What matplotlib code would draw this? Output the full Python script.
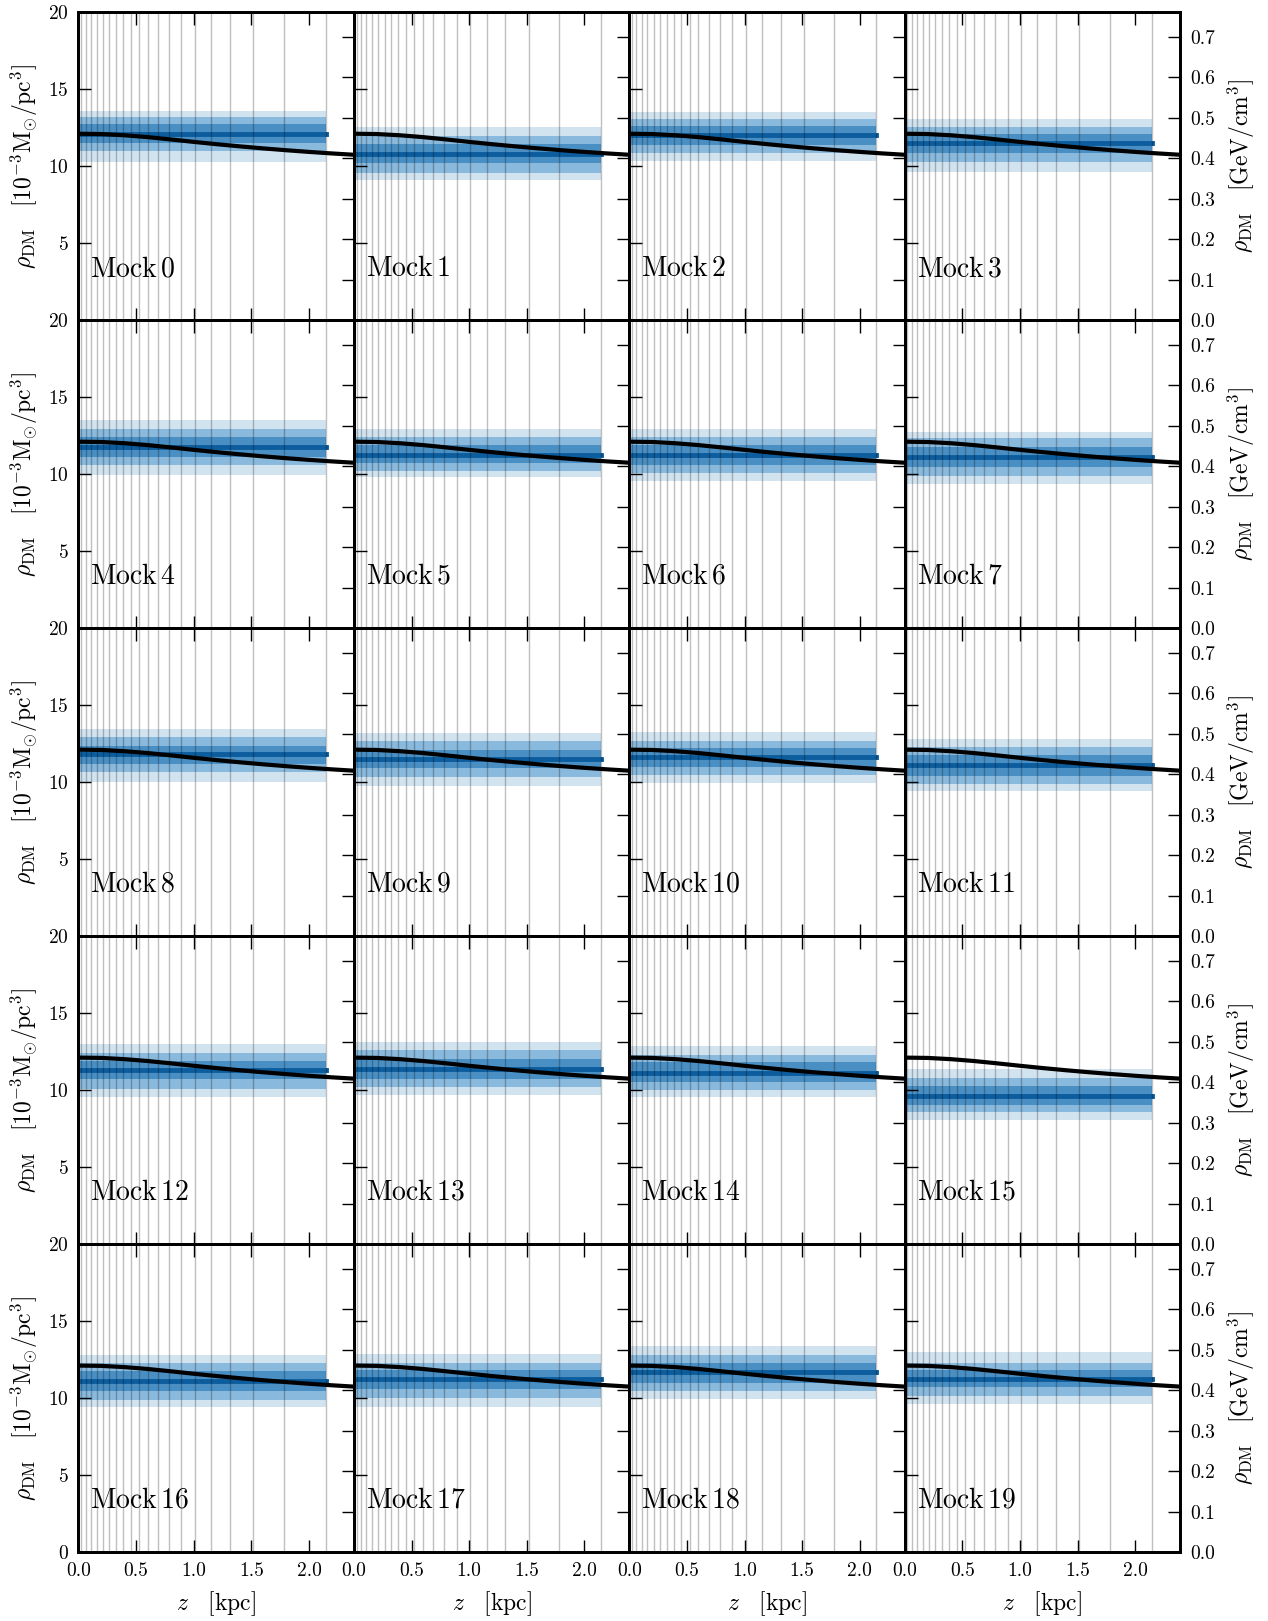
import numpy as np
import matplotlib
matplotlib.use("Agg")
import matplotlib.pyplot as plt

plt.rcParams['font.family'] = 'serif'
plt.rcParams['font.serif'] = ['cmr10']
plt.rcParams['mathtext.fontset'] = 'cm'
plt.rcParams['axes.unicode_minus'] = False
plt.rcParams['axes.formatter.use_mathtext'] = True

# bin edges (kpc), drawn as vertical lines
bin_edges = [0.0, 0.024, 0.061, 0.108, 0.157, 0.213, 0.266, 0.323, 0.385, 0.452,
             0.524, 0.600, 0.688, 0.784, 0.892, 1.011, 1.151, 1.315, 1.516, 1.780, 2.145]

# true profile (10^-3 Msun/pc^3)
true_z = [0.0, 0.2, 0.4, 0.6, 0.8, 1.0, 1.2, 1.4, 1.6, 1.8, 2.0, 2.2, 2.4]
true_rho = [12.12, 12.10, 12.02, 11.90, 11.75, 11.59, 11.44, 11.30, 11.17, 11.05, 10.94, 10.84, 10.75]

# inferred constant density per mock
median = [12.08, 10.80, 12.01, 11.50, 11.80, 11.26, 11.26, 11.13, 11.82, 11.50,
          11.63, 11.13, 11.30, 11.39, 11.13, 9.64, 11.09, 11.24, 11.71, 11.28]
band1_lo = [11.50, 10.20, 11.40, 10.85, 11.15, 10.72, 10.61, 10.46, 11.20, 10.91,
            10.98, 10.44, 10.70, 10.74, 10.52, 9.07, 10.44, 10.59, 11.02, 10.70]
band1_hi = [12.75, 11.45, 12.60, 12.10, 12.45, 11.91, 11.91, 11.80, 12.39, 12.10,
            12.21, 11.78, 11.89, 12.04, 11.82, 10.27, 11.74, 11.82, 12.28, 11.82]
band2_lo = [11.00, 9.60, 10.85, 10.31, 10.61, 10.22, 10.07, 9.92, 10.70, 10.33,
            10.48, 9.90, 10.11, 10.22, 10.00, 8.58, 9.90, 10.00, 10.48, 10.16]
band2_hi = [13.23, 12.00, 13.05, 12.58, 12.95, 12.45, 12.45, 12.34, 12.93, 12.65,
            12.69, 12.32, 12.43, 12.60, 12.32, 10.81, 12.26, 12.32, 12.82, 12.32]
band3_lo = [10.31, 9.10, 10.34, 9.66, 9.94, 9.85, 9.59, 9.38, 10.00, 9.77,
            9.94, 9.44, 9.57, 9.72, 9.57, 8.10, 9.46, 9.40, 9.94, 9.61]
band3_hi = [13.60, 12.55, 13.56, 13.06, 13.53, 12.95, 12.95, 12.77, 13.47, 13.19,
            13.25, 12.80, 13.01, 13.14, 12.86, 11.39, 12.82, 12.86, 13.36, 12.97]

GEV_PER_UNIT = 0.038  # 10^-3 Msun/pc^3 -> GeV/cm^3
YMAX = 20.0
XMAX = 2.39


def main():
    nrows, ncols = 5, 4
    fig, axes = plt.subplots(nrows, ncols, figsize=(12.68, 16.21), dpi=100)
    fig.subplots_adjust(left=0.0619, right=0.9307, top=0.99235, bottom=0.04244,
                        wspace=0, hspace=0)

    colors = ['#d2e3f0', '#89b9dc', '#4a8fc4', '#0c5d9e']
    zmax = bin_edges[-1]

    for i in range(nrows * ncols):
        r, c = divmod(i, ncols)
        ax = axes[r, c]

        ax.fill_between([0, zmax], band3_lo[i], band3_hi[i], color=colors[0], lw=0, zorder=1)
        ax.fill_between([0, zmax], band2_lo[i], band2_hi[i], color=colors[1], lw=0, zorder=1)
        ax.fill_between([0, zmax], band1_lo[i], band1_hi[i], color=colors[2], lw=0, zorder=1)
        ax.plot([0, zmax], [median[i], median[i]], color=colors[3], lw=3.5, zorder=2)

        for e in bin_edges:
            ax.axvline(e, color='k', alpha=0.25, lw=1.0, zorder=3)

        ax.plot(true_z, true_rho, color='k', lw=3, zorder=4)

        ax.text(0.043, 0.144, r'$\mathrm{Mock\,%d}$' % i, transform=ax.transAxes,
                fontsize=20, ha='left', va='baseline', zorder=5)

        ax.set_xlim(0, XMAX)
        ax.set_ylim(0, YMAX)
        ax.set_xticks([0.0, 0.5, 1.0, 1.5, 2.0])
        ax.set_yticks([0, 5, 10, 15, 20] if r == nrows - 1 else [5, 10, 15, 20])
        ax.tick_params(direction='in', length=9, width=1, top=True, right=False,
                       labelsize=14, pad=7)
        for sp in ax.spines.values():
            sp.set_linewidth(2)

        if r == nrows - 1:
            ax.set_xticklabels(['0.0', '0.5', '1.0', '1.5', '2.0'])
            ax.set_xlabel(r'$z\quad[\mathrm{kpc}]$', fontsize=17, labelpad=7)
        else:
            ax.set_xticklabels([])
        if c == 0:
            ax.set_ylabel(r'$\rho_{\rm DM}\quad[10^{-3}{\rm M}_{\odot}/{\rm pc}^3]$',
                          fontsize=17, labelpad=6)
        else:
            ax.set_yticklabels([])

        tw = ax.twinx()
        tw.set_ylim(0, YMAX * GEV_PER_UNIT)
        tw.set_yticks(np.arange(0, 0.75, 0.1))
        tw.tick_params(direction='in', length=9, width=1, labelsize=14, pad=7)
        for sp in tw.spines.values():
            sp.set_linewidth(2)
        if c == ncols - 1:
            tw.set_yticklabels(['%.1f' % v for v in np.arange(0, 0.75, 0.1)])
            tw.set_ylabel(r'$\rho_{\rm DM}\quad[{\rm GeV}/{\rm cm}^3]$', fontsize=17,
                          rotation=90, labelpad=8)
        else:
            tw.set_yticklabels([])

    fig.savefig('out.png', dpi=100)


if __name__ == "__main__":
    main()
